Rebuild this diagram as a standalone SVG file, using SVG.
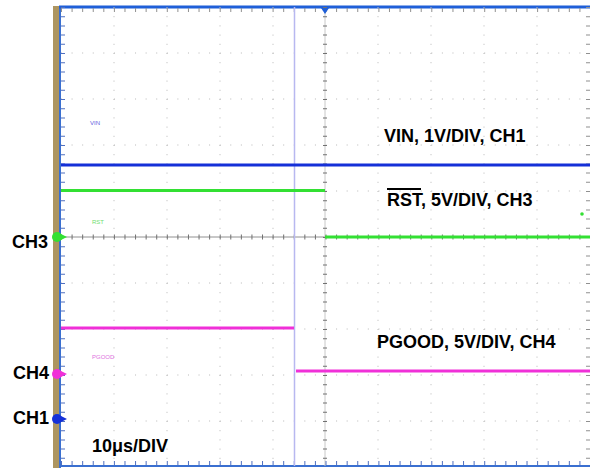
<svg xmlns="http://www.w3.org/2000/svg" width="590" height="468" viewBox="0 0 590 468">
<defs>
<style>
.grid{stroke:#b8b8b8;stroke-width:1;stroke-dasharray:1 9.58;fill:none}
.gridv{stroke:#b8b8b8;stroke-width:1;stroke-dasharray:1 8.2;fill:none}
.tickh{stroke:#707070;stroke-width:5;stroke-dasharray:1 9.58;fill:none}
.tickv{stroke:#707070;stroke-width:5;stroke-dasharray:1 8.2;fill:none}
.lbl{font-family:"Liberation Sans",Arial,sans-serif;font-weight:bold;font-size:18px;fill:#000}
.small{font-family:"Liberation Sans",Arial,sans-serif;font-size:6px}
.tr{fill:none;stroke-width:3;stroke-linecap:butt}
</style>
</defs>
<rect x="0" y="0" width="590" height="468" fill="#fff"/>
<g id="frame">
<rect x="53" y="6" width="6" height="462" fill="#ad9560"/>
<line x1="60" y1="6" x2="60" y2="468" stroke="#3a6fd0" stroke-width="2"/>
<line x1="59" y1="7" x2="590" y2="7" stroke="#1f5fd8" stroke-width="3"/>
<line x1="59" y1="466" x2="590" y2="466" stroke="#3a6fd0" stroke-width="2"/>
</g>
<g id="grid">
<path class="grid" d="M61 53H590M61 99H590M61 145H590M61 191H590M61 283H590M61 329H590M61 375H590M61 421H590"/>
<path class="gridv" d="M114 7V466M167 7V466M220 7V466M273 7V466M378 7V466M431 7V466M484 7V466M537 7V466"/>
<line x1="61" y1="237" x2="590" y2="237" stroke="#909090" stroke-width="1"/>
<line x1="325" y1="7" x2="325" y2="466" stroke="#c8c8c8" stroke-width="1"/>
<line class="tickh" x1="61" y1="237" x2="590" y2="237" stroke-width="4"/>
<line class="tickv" x1="325" y1="7" x2="325" y2="466" transform="rotate(0)" style="stroke-width:4"/>
<line class="tickv" x1="63" y1="7" x2="63" y2="466" style="stroke-width:4;stroke:#5070c0"/>
<line class="tickv" x1="588" y1="7" x2="588" y2="466" style="stroke-width:4;stroke:#909090"/>
<line class="tickh" x1="61" y1="10" x2="590" y2="10" style="stroke-width:4;stroke:#909090"/>
<line class="tickh" x1="61" y1="463" x2="590" y2="463" style="stroke-width:4;stroke:#5070c0"/>
<path d="M321 8 L329 8 L325 14 Z" fill="#1f5fd8"/>
</g>
<g id="cursor">
<line x1="294.5" y1="7" x2="294.5" y2="466" stroke="#b8b8f0" stroke-width="1.5"/>
</g>
<g id="traces">
<g id="vin-trace"><line class="tr" x1="61" y1="165" x2="590" y2="165" stroke="#1530d8"/></g>
<g id="rst-trace"><path class="tr" d="M61 190.5H325M325 237H590" stroke="#33e033"/></g>
<g id="pgood-trace"><path class="tr" d="M61 328H294M296 371H590" stroke="#f030d8"/></g>
<circle cx="582" cy="214" r="1.8" fill="#33e033"/>
</g>
<g id="markers">
<g id="m-ch3"><circle cx="57" cy="237" r="5" fill="#33e033"/><path d="M61 234L67 237L61 240Z" fill="#33e033"/></g>
<g id="m-ch4"><circle cx="57" cy="374" r="5" fill="#f030d8"/><path d="M61 371L67 374L61 377Z" fill="#f030d8"/></g>
<g id="m-ch1"><circle cx="57" cy="419" r="5" fill="#1530d8"/><path d="M61 416L67 419L61 422Z" fill="#1530d8"/></g>
</g>
<g id="labels">
<text class="small" x="90" y="125" fill="#6060e0">VIN</text>
<text class="small" x="92" y="224" fill="#70e070">RST</text>
<text class="small" x="92" y="359" fill="#e070e0">PGOOD</text>
<text class="lbl" x="384" y="142">VIN, 1V/DIV, CH1</text>
<text class="lbl" x="387" y="206">RST, 5V/DIV, CH3</text>
<line x1="387" y1="189" x2="421" y2="189" stroke="#000" stroke-width="2"/>
<text class="lbl" x="377" y="348">PGOOD, 5V/DIV, CH4</text>
<text class="lbl" x="92" y="452">10μs/DIV</text>
<text class="lbl" x="12" y="248">CH3</text>
<text class="lbl" x="13" y="379">CH4</text>
<text class="lbl" x="13" y="424">CH1</text>
</g>
</svg>
